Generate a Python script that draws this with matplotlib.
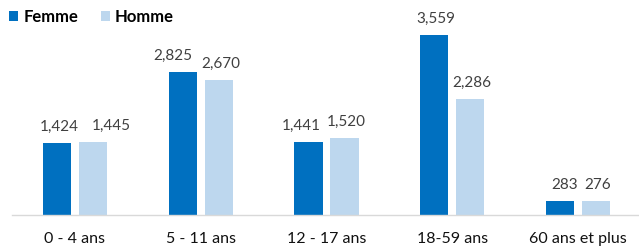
import matplotlib
matplotlib.use("Agg")
import matplotlib.pyplot as plt
import numpy as np

categories = ["0 - 4 ans", "5 - 11 ans", "12 - 17 ans", "18-59 ans", "60 ans et plus"]
femme = [1424, 2825, 1441, 3559, 283]
homme = [1445, 2670, 1520, 2286, 276]

FEMME_COLOR = "#0070C0"
HOMME_COLOR = "#BDD7EE"
TEXT_COLOR = "#404040"

# horizontal nudges (pixels) for the value labels, as placed in the original
femme_nudge = [2, -10, -7, 2, 4]
homme_nudge = [18, 2, 2, 2, 2]

plt.rcParams["font.family"] = ["Lato", "DejaVu Sans"]

fig = plt.figure(figsize=(6.39, 2.48), dpi=100)
ax = fig.add_axes([12 / 639, 33 / 248, 629 / 639, 195 / 248])

x = np.arange(len(categories))
w = 0.223
off = 0.143
ax.bar(x - off, femme, w, color=FEMME_COLOR, label="Femme")
ax.bar(x + off, homme, w, color=HOMME_COLOR, label="Homme")

for xs, vals, nudges in ((x - off, femme, femme_nudge), (x + off, homme, homme_nudge)):
    for xi, v, dx in zip(xs, vals, nudges):
        ax.annotate(f"{v:,}", (xi, v), xytext=(dx, 12), textcoords="offset pixels",
                    ha="center", va="baseline", fontsize=11, color=TEXT_COLOR)

ax.set_xlim(-0.5, 4.5)
ax.set_ylim(0, 195 / 0.0506)
ax.set_xticks(x)
ax.set_xticklabels(categories, fontsize=11.5, color="#111111")
ax.tick_params(axis="x", length=0, pad=12.5)
ax.set_yticks([])
for s in ["top", "right", "left"]:
    ax.spines[s].set_visible(False)
ax.spines["bottom"].set_color("#D9D9D9")
ax.spines["bottom"].set_linewidth(1.0)

fig.legend(loc="upper left", bbox_to_anchor=(9 / 639, 1 - 9 / 248), ncol=2, frameon=False,
           borderpad=0, borderaxespad=0,
           handlelength=0.55, handleheight=0.55, handletextpad=0.3,
           columnspacing=1.35, prop={"weight": "bold", "size": 12})

fig.savefig("out.png", dpi=100)
